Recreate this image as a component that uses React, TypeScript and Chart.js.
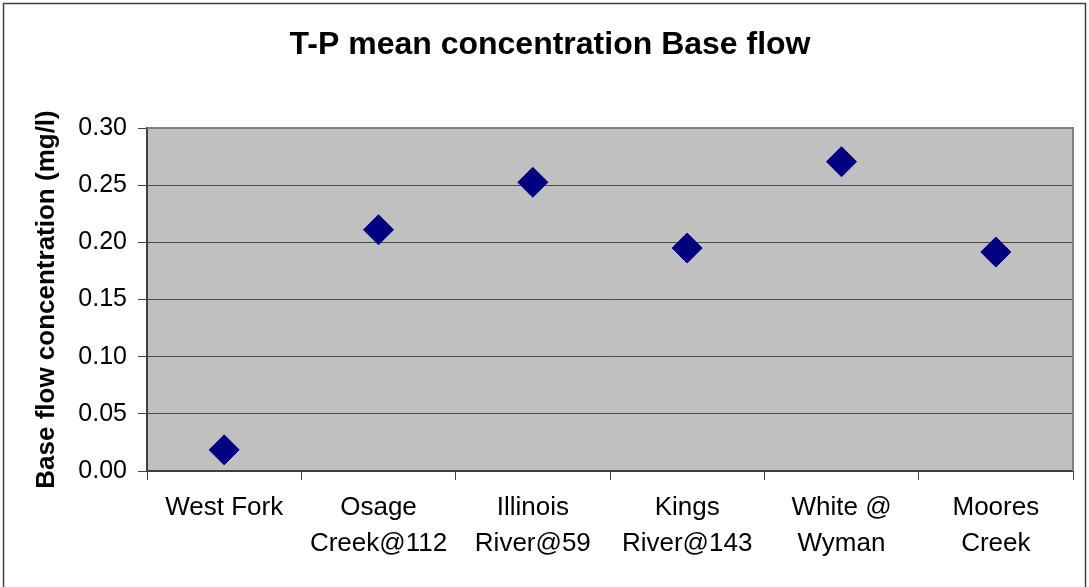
import React, { useEffect, useRef } from "react";
import { Chart, registerables } from "chart.js";

Chart.register(...registerables);

const chartTitle = "T-P mean concentration Base flow";
const yAxisTitle = "Base flow concentration (mg/l)";
const categories: string[][] = [
  ["West Fork"],
  ["Osage", "Creek@112"],
  ["Illinois", "River@59"],
  ["Kings", "River@143"],
  ["White @", "Wyman"],
  ["Moores", "Creek"],
];
const tpMean: number[] = [0.0185, 0.211, 0.2525, 0.195, 0.2705, 0.1915];
const yMin = 0;
const yMax = 0.3;
const yStep = 0.05;

const FONT = "'Liberation Sans', Arial, sans-serif";

const frame = {
  id: "frame",
  beforeDraw(chart: any) {
    const { ctx, chartArea } = chart;
    ctx.save();
    ctx.fillStyle = "#ffffff";
    ctx.fillRect(0, 0, chart.width, chart.height);
    ctx.fillStyle = "#C0C0C0";
    ctx.fillRect(chartArea.left, chartArea.top, chartArea.right - chartArea.left, chartArea.bottom - chartArea.top);
    ctx.restore();
  },
  beforeDatasetsDraw(chart: any) {
    const { ctx, chartArea } = chart;
    ctx.save();
    ctx.strokeStyle = "#808080";
    ctx.lineWidth = 2;
    ctx.beginPath();
    ctx.moveTo(chartArea.left, chartArea.top);
    ctx.lineTo(chartArea.right, chartArea.top);
    ctx.lineTo(chartArea.right, chartArea.bottom);
    ctx.stroke();
    ctx.restore();
  },
  afterDraw(chart: any) {
    const { ctx } = chart;
    ctx.save();
    // chart title
    ctx.fillStyle = "#000";
    ctx.font = `bold 32px ${FONT}`;
    ctx.textAlign = "center";
    ctx.textBaseline = "middle";
    ctx.fillText(chartTitle, 550, 45);
    // outer frame
    ctx.strokeStyle = "#404040";
    ctx.lineWidth = 1.5;
    ctx.beginPath();
    ctx.moveTo(3.5, chart.height + 5);
    ctx.lineTo(3.5, 3.5);
    ctx.lineTo(1085.5, 3.5);
    ctx.lineTo(1085.5, chart.height + 5);
    ctx.stroke();
    ctx.restore();
  },
};

export default function App() {
  const ref = useRef<HTMLCanvasElement | null>(null);
  useEffect(() => {
    document.body.style.margin = "0";
    const c = new Chart(ref.current as HTMLCanvasElement, {
      type: "line",
      data: {
        labels: categories,
        datasets: [
          {
            label: "T-P mean",
            data: tpMean,
            showLine: false,
            pointStyle: "rectRot",
            pointRadius: 15,
            pointHoverRadius: 15,
            backgroundColor: "#000080",
            borderColor: "#000080",
            borderWidth: 1,
          },
        ],
      },
      options: {
        animation: false,
        responsive: true,
        maintainAspectRatio: false,
        layout: { padding: { left: 0, right: 13, top: 128, bottom: 0 } },
        plugins: {
          legend: { display: false },
          tooltip: { enabled: false },
          title: { display: false },
        },
        scales: {
          x: {
            type: "category",
            offset: true,
            grid: {
              offset: true,
              drawOnChartArea: false,
              drawTicks: true,
              tickLength: 9,
              tickColor: "#404040",
              color: "#404040",
            },
            border: { display: true, color: "#404040", width: 2 },
            ticks: {
              color: "#000",
              padding: 10,
              maxRotation: 0,
              autoSkip: false,
              font: { family: FONT, size: 26, lineHeight: 1.385 },
            },
            afterFit(scale: any) {
              scale.height = 116;
            },
          },
          y: {
            min: yMin,
            max: yMax,
            grid: {
              color: "#4a4a4a",
              lineWidth: 1,
              drawTicks: true,
              tickLength: 9,
              tickColor: "#404040",
            },
            border: { display: true, color: "#404040", width: 2 },
            ticks: {
              stepSize: yStep,
              color: "#000",
              padding: 11,
              font: { family: FONT, size: 25 },
              callback: (v: any) => Number(v).toFixed(2),
            },
            title: {
              display: true,
              text: yAxisTitle,
              color: "#000",
              font: { family: FONT, size: 26, weight: "bold", lineHeight: 1.2 },
              padding: { top: 31, bottom: 0 },
            },
            afterFit(scale: any) {
              scale.width = 147;
            },
          },
        },
      },
      plugins: [frame],
    });
    return () => c.destroy();
  }, []);
  return (
    <div style={{ position: "fixed", left: 0, top: 0, width: 1089, height: 587 }}>
      <canvas ref={ref} />
    </div>
  );
}
